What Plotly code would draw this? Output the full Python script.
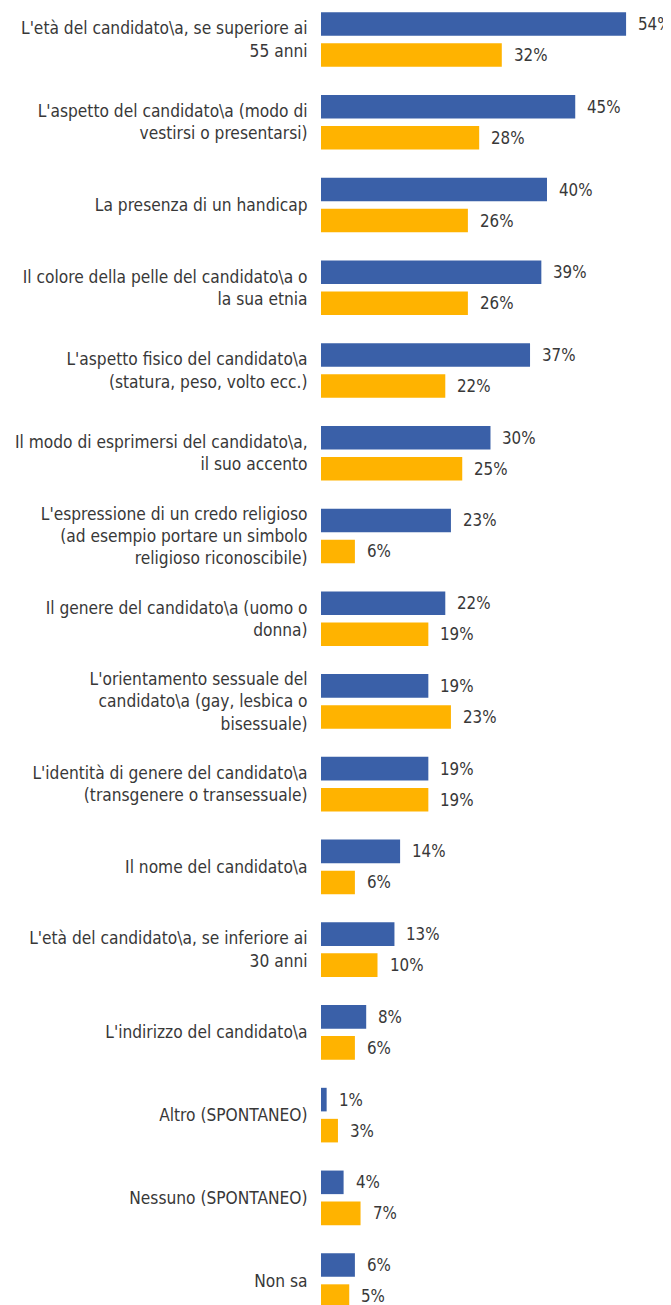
import plotly.graph_objects as go

categories = [
    "L'età del candidato\\a, se superiore ai<br>55 anni",
    "L'aspetto del candidato\\a (modo di<br>vestirsi o presentarsi)",
    "La presenza di un handicap",
    "Il colore della pelle del candidato\\a o<br>la sua etnia",
    "L'aspetto fisico del candidato\\a<br>(statura, peso, volto ecc.)",
    "Il modo di esprimersi del candidato\\a,<br>il suo accento",
    "L'espressione di un credo religioso<br>(ad esempio portare un simbolo<br>religioso riconoscibile)",
    "Il genere del candidato\\a (uomo o<br>donna)",
    "L'orientamento sessuale del<br>candidato\\a (gay, lesbica o<br>bisessuale)",
    "L'identità di genere del candidato\\a<br>(transgenere o transessuale)",
    "Il nome del candidato\\a",
    "L'età del candidato\\a, se inferiore ai<br>30 anni",
    "L'indirizzo del candidato\\a",
    "Altro (SPONTANEO)",
    "Nessuno (SPONTANEO)",
    "Non sa",
]
series_blue = [54, 45, 40, 39, 37, 30, 23, 22, 19, 19, 14, 13, 8, 1, 4, 6]
series_orange = [32, 28, 26, 26, 22, 25, 6, 19, 23, 19, 6, 10, 6, 3, 7, 5]

BLUE = "#3A60A8"
ORANGE = "#FFB300"
FONT = "Liberation Sans Narrow, Arial Narrow, DejaVu Sans Condensed, sans-serif"
TEXTCOL = "#383838"

fig = go.Figure()
fig.add_trace(go.Bar(y=categories, x=series_blue, orientation="h",
                     marker=dict(color=BLUE, line=dict(width=0)), name="A"))
fig.add_trace(go.Bar(y=categories, x=series_orange, orientation="h",
                     marker=dict(color=ORANGE, line=dict(width=0)), name="B"))

annotations = []
for i, cat in enumerate(categories):
    for val, shift in ((series_blue[i], 15.5), (series_orange[i], -15.5)):
        annotations.append(dict(x=val, y=cat, xref="x", yref="y", text=f"{val}%",
                                showarrow=False, xanchor="left", yanchor="middle",
                                xshift=10, yshift=shift,
                                font=dict(family=FONT, size=16.8, color=TEXTCOL)))

# page body has an 8px default margin, so the figure is sized to end at the window edge
fig.update_layout(
    width=663, height=1297,
    margin=dict(l=313, r=0, t=0, b=0, autoexpand=False),
    paper_bgcolor="white", plot_bgcolor="white",
    barmode="group", bargap=0.25, bargroupgap=0.24,
    showlegend=False,
    annotations=annotations,
    font=dict(family=FONT, size=17.2, color=TEXTCOL),
)
fig.update_xaxes(range=[0, 61.95], visible=False, showgrid=False, zeroline=False)
fig.update_yaxes(type="category", range=[15.295, -0.381], showgrid=False, zeroline=False,
                 showline=False, ticks="outside", ticklen=9, tickcolor="rgba(0,0,0,0)",
                 automargin=False,
                 tickfont=dict(family=FONT, size=17.2, color=TEXTCOL))

fig.write_html("out.html")
